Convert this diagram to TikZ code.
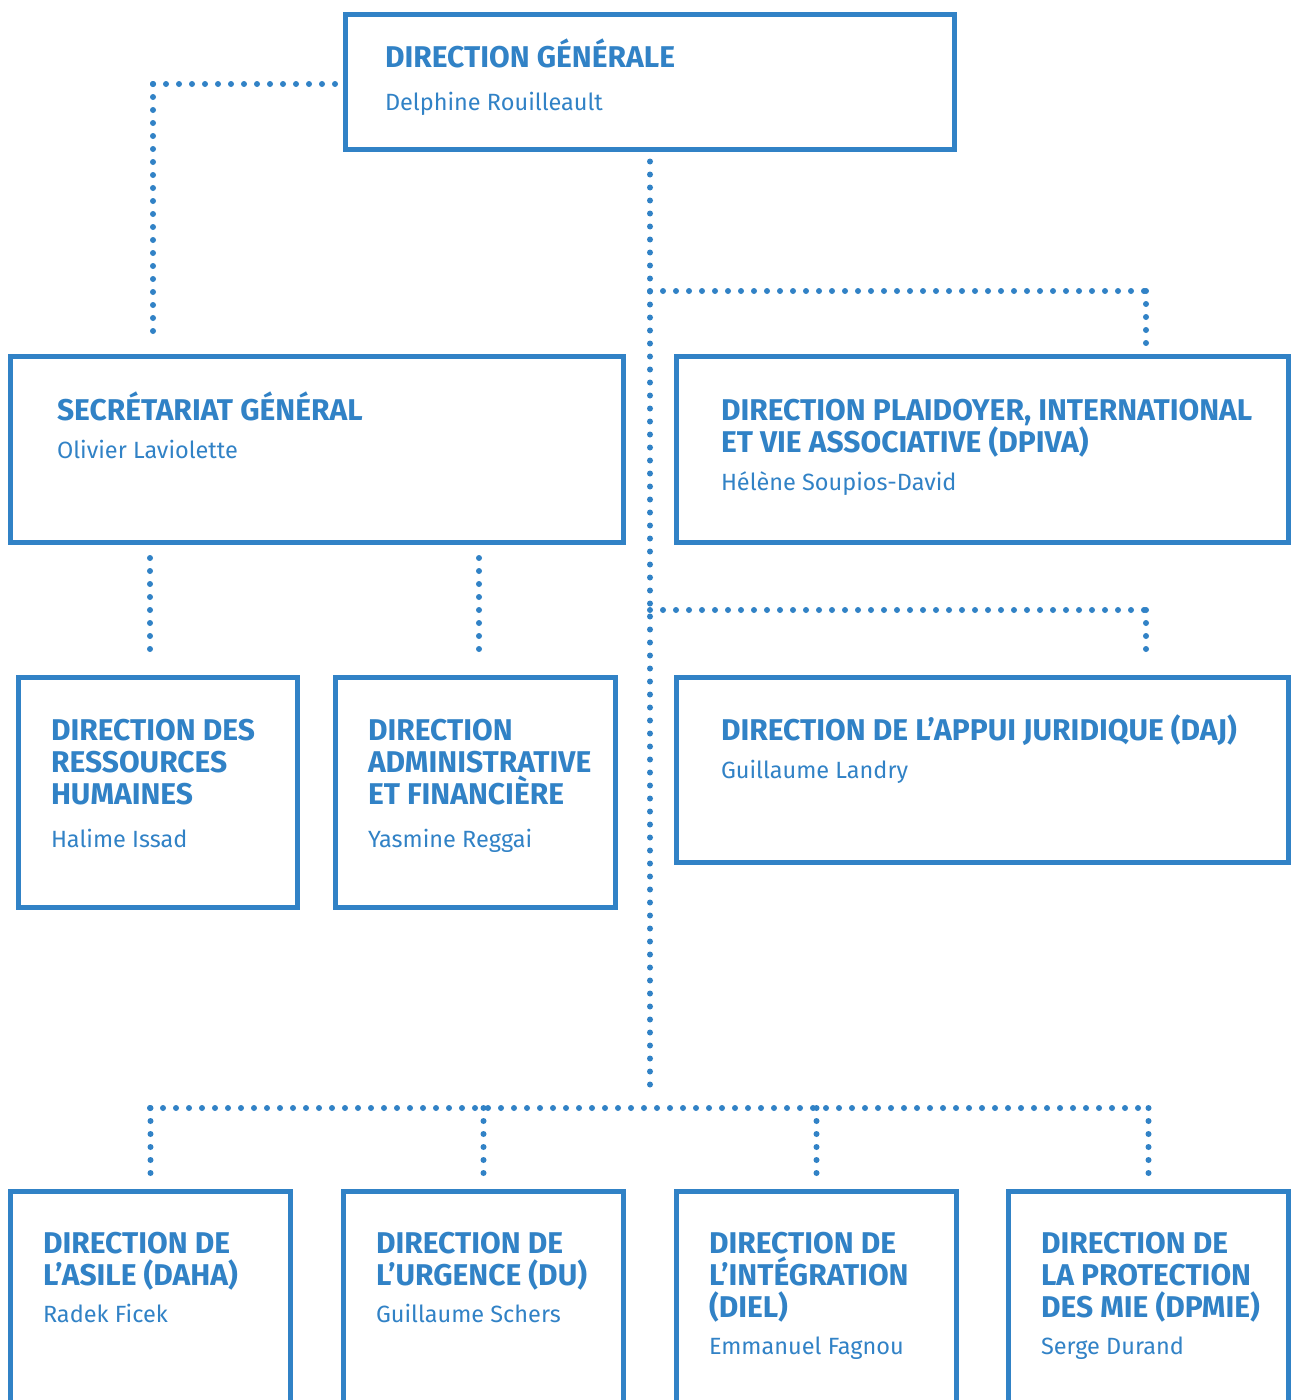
\documentclass[tikz,border=0pt]{standalone}
\usepackage{fontspec}
\setmainfont{Fira Sans}
\newfontfamily\ttlfont{Fira Sans}
\newfontfamily\nmfont{Fira Sans}
\definecolor{orgblue}{RGB}{49,130,198}
\tikzset{
  orgbox/.style={draw=orgblue, line width=5pt, anchor=north west, inner sep=0pt, outer sep=0pt},
  ttl/.style={anchor=north west, inner sep=0pt, outer sep=0pt, align=left, text=orgblue,
    font=\ttlfont\bfseries\fontsize{30}{32}\selectfont},
  nm/.style={anchor=base west, inner sep=0pt, outer sep=0pt, text=orgblue,
    font=\nmfont\fontsize{23.5}{26}\selectfont},
  dots/.style={draw=orgblue, line width=6pt, line cap=round, dash pattern=on 0pt off 13pt}
}
\newcommand{\fl}{\rule{0pt}{30pt}}
\begin{document}
\begin{tikzpicture}[x=1pt,y=-1pt]
\clip (0,0) rectangle (1291,1400);
\fill[white] (0,0) rectangle (1291,1400);
% boxes
\node[orgbox, minimum width=609pt, minimum height=135pt] (dg) at (345.5,14.5) {};
\node[orgbox, minimum width=613pt, minimum height=186pt] (sg) at (10.5,356.5) {};
\node[orgbox, minimum width=612pt, minimum height=186pt] (dpiva) at (676.5,356.5) {};
\node[orgbox, minimum width=279pt, minimum height=230pt] (drh) at (18.5,677.5) {};
\node[orgbox, minimum width=280pt, minimum height=230pt] (daf) at (335.5,677.5) {};
\node[orgbox, minimum width=612pt, minimum height=185pt] (daj) at (676.5,677.5) {};
\node[orgbox, minimum width=280pt, minimum height=300pt] (daha) at (10.5,1191.5) {};
\node[orgbox, minimum width=280pt, minimum height=300pt] (du) at (343.5,1191.5) {};
\node[orgbox, minimum width=280pt, minimum height=300pt] (diel) at (676.5,1191.5) {};
\node[orgbox, minimum width=280pt, minimum height=300pt] (dpmie) at (1008.5,1191.5) {};
% texts
\node[ttl] (dg-t) at ([shift={(39.5,22.5)}]dg.north west) {\fl DIRECTION GÉNÉRALE};
\node[nm] (dg-n) at ([shift={(39.5,95.5)}]dg.north west) {Delphine Rouilleault};
\node[ttl] (sg-t) at ([shift={(46.5,33.5)}]sg.north west) {\fl SECRÉTARIAT GÉNÉRAL};
\node[nm] (sg-n) at ([shift={(46.5,101.5)}]sg.north west) {Olivier Laviolette};
\node[ttl] (dpiva-t) at ([shift={(44.5,33.5)}]dpiva.north west) {\fl DIRECTION PLAIDOYER, INTERNATIONAL\\ET VIE ASSOCIATIVE (DPIVA)};
\node[nm] (dpiva-n) at ([shift={(44.5,133.5)}]dpiva.north west) {Hélène Soupios-David};
\node[ttl] (drh-t) at ([shift={(32.5,32.5)}]drh.north west) {\fl DIRECTION DES\\RESSOURCES\\HUMAINES};
\node[nm] (drh-n) at ([shift={(32.5,169.5)}]drh.north west) {Halime Issad};
\node[ttl] (daf-t) at ([shift={(32.5,32.5)}]daf.north west) {\fl DIRECTION\\ADMINISTRATIVE\\ET FINANCIÈRE};
\node[nm] (daf-n) at ([shift={(32.5,169.5)}]daf.north west) {Yasmine Reggai};
\node[ttl] (daj-t) at ([shift={(44.5,32.5)}]daj.north west) {\fl DIRECTION DE L’APPUI JURIDIQUE (DAJ)};
\node[nm] (daj-n) at ([shift={(44.5,100.5)}]daj.north west) {Guillaume Landry};
\node[ttl] (daha-t) at ([shift={(32.5,31.5)}]daha.north west) {\fl DIRECTION DE\\L’ASILE (DAHA)};
\node[nm] (daha-n) at ([shift={(32.5,130.5)}]daha.north west) {Radek Ficek};
\node[ttl] (du-t) at ([shift={(32.5,31.5)}]du.north west) {\fl DIRECTION DE\\L’URGENCE (DU)};
\node[nm] (du-n) at ([shift={(32.5,130.5)}]du.north west) {Guillaume Schers};
\node[ttl] (diel-t) at ([shift={(32.5,31.5)}]diel.north west) {\fl DIRECTION DE\\L’INTÉGRATION\\(DIEL)};
\node[nm] (diel-n) at ([shift={(32.5,162.5)}]diel.north west) {Emmanuel Fagnou};
\node[ttl] (dpmie-t) at ([shift={(32.5,31.5)}]dpmie.north west) {\fl DIRECTION DE\\LA PROTECTION\\DES MIE (DPMIE)};
\node[nm] (dpmie-n) at ([shift={(32.5,162.5)}]dpmie.north west) {Serge Durand};
% connector points
\coordinate (cA) at (153,84);
\coordinate (sgin) at (153,343);
\coordinate (dgw) at (335.5,84);
\coordinate (spEnd) at (650,1092);
\coordinate (b1) at (650,291);
\coordinate (b1r) at (1146,291);
\coordinate (b1d) at (1146,343);
\coordinate (b2) at (650,610);
\coordinate (b2r) at (1146,610);
\coordinate (b2d) at (1146,662);
\coordinate (s1) at (150,558);
\coordinate (s1d) at (150,662);
\coordinate (s2) at (479,558);
\coordinate (s2d) at (479,662);
\coordinate (busL) at (150,1108);
\coordinate (busR) at (1148,1108);
% connectors
\draw[dots] (cA) -- (dgw);
\draw[dots] (cA) -- (sgin);
\draw[dots] ([yshift=-12pt]dg.south) -- (spEnd);
\draw[dots] (b1) -- (b1r);
\draw[dots] (b1r) -- (b1d);
\draw[dots] (b2) -- (b2r);
\draw[dots] (b2r) -- (b2d);
\draw[dots] (s1) -- (s1d);
\draw[dots] (s2) -- (s2d);
\draw[dots] (busL) -- (busR);
\draw[dots] (daha.north |- busL) -- ([yshift=13pt]daha.north);
\draw[dots] (du.north |- busL) -- ([yshift=13pt]du.north);
\draw[dots] (diel.north |- busL) -- ([yshift=13pt]diel.north);
\draw[dots] (dpmie.north |- busL) -- ([yshift=13pt]dpmie.north);
\end{tikzpicture}
\end{document}
